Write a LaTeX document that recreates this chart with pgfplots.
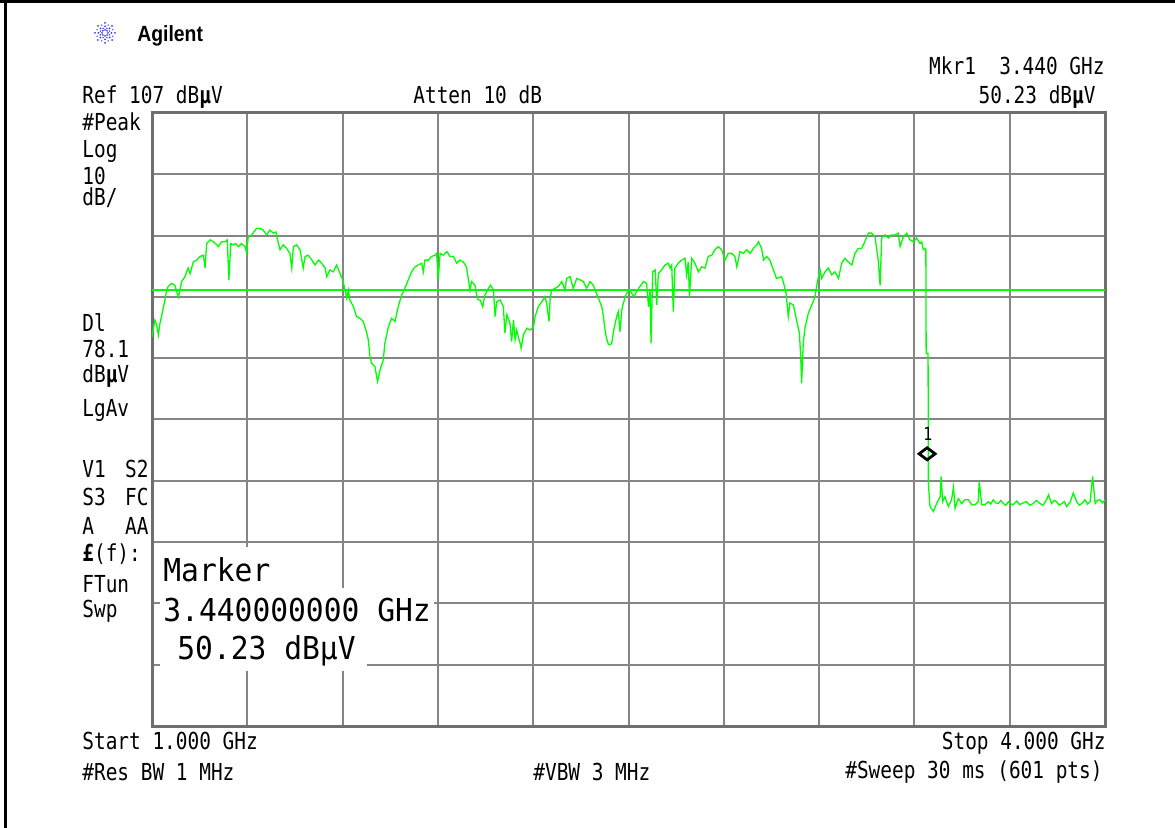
\documentclass[border=0pt]{standalone}
\usepackage{pgfplots}
\pgfplotsset{compat=1.18}
\usepackage{fontspec}
\newfontfamily\scr[FakeStretch=0.83]{DejaVu Sans Mono}
\newfontfamily\bigscr[FakeStretch=0.94]{DejaVu Sans Mono}
\newfontfamily\agil[FakeStretch=0.88]{Liberation Sans}
\definecolor{frameg}{HTML}{6E6E6E}
\definecolor{gridg}{HTML}{858585}
\definecolor{trace}{HTML}{00FF00}
\definecolor{agblue}{HTML}{3A3AF0}
\newcommand{\sm}{\scr\fontsize{11.7bp}{14bp}\selectfont}
\newcommand{\bg}{\bigscr\fontsize{15.75bp}{18bp}\selectfont}
\newcommand{\bmu}{{\bfseries µ}}
\begin{document}
\begin{tikzpicture}
\path[use as bounding box, fill=white] (0,0) rectangle (587.5bp,414bp);
\begin{axis}[at={(76bp,51bp)}, anchor=south west, scale only axis,
  width=476.5bp, height=306.5bp,
  xmin=1, xmax=4, ymin=7, ymax=107,
  xtick={1.3,1.6,1.9,2.2,2.5,2.8,3.1,3.4,3.7},
  ytick={17,27,37,47,57,67,77,87,97},
  xticklabels={}, yticklabels={}, major tick length=0pt,
  grid=major, grid style={gridg, line width=1bp},
  axis line style={frameg, line width=1.5bp},
  clip=false]
\addplot[trace, line width=1bp] coordinates {(1,78.1) (4,78.1)};
\addplot[trace, line width=0.65bp] coordinates {
(1.000,70.5) (1.009,73.2) (1.015,72.4) (1.020,70.8) (1.025,72.7) (1.030,73.8) (1.036,75.4) (1.041,76.5) (1.046,78.1) (1.051,78.7) (1.062,79.2) (1.072,78.9) (1.083,77.0) (1.088,78.1) (1.093,79.5) (1.104,80.3) (1.109,81.1) (1.114,81.7) (1.120,80.8) (1.130,82.7) (1.141,83.0) (1.151,83.6) (1.162,83.8) (1.167,81.7) (1.172,85.7) (1.183,86.3) (1.193,86.0) (1.204,85.5) (1.209,85.2) (1.219,86.0) (1.230,86.0) (1.237,86.3) (1.242,79.8) (1.248,85.7) (1.256,85.5) (1.264,85.7) (1.272,85.2) (1.282,85.7) (1.293,85.2) (1.298,84.1) (1.303,86.8) (1.314,87.1) (1.329,88.2) (1.340,88.2) (1.350,87.9) (1.361,87.1) (1.371,87.9) (1.382,87.4) (1.390,87.6) (1.398,85.7) (1.403,84.7) (1.413,85.5) (1.424,84.9) (1.434,84.1) (1.440,81.7) (1.445,85.2) (1.455,85.5) (1.466,84.7) (1.476,81.7) (1.482,83.6) (1.492,83.8) (1.503,83.0) (1.513,82.2) (1.524,83.0) (1.534,82.5) (1.545,81.7) (1.550,80.3) (1.560,81.4) (1.571,81.1) (1.581,82.2) (1.592,80.8) (1.600,79.8) (1.608,78.1) (1.613,76.8) (1.618,78.1) (1.623,76.5) (1.634,75.4) (1.644,73.8) (1.655,73.5) (1.665,73.0) (1.676,71.1) (1.681,70.0) (1.686,67.3) (1.691,66.2) (1.702,65.6) (1.707,64.0) (1.710,63.2) (1.718,65.1) (1.728,66.7) (1.733,69.4) (1.744,72.1) (1.754,73.5) (1.765,73.0) (1.775,75.4) (1.786,77.3) (1.796,78.4) (1.807,79.8) (1.817,81.1) (1.828,81.9) (1.838,82.2) (1.849,82.5) (1.854,81.1) (1.859,83.0) (1.870,83.0) (1.880,83.6) (1.891,83.8) (1.896,84.1) (1.901,79.8) (1.907,84.1) (1.917,83.8) (1.928,84.4) (1.938,83.6) (1.949,83.6) (1.959,82.5) (1.969,83.0) (1.980,82.7) (1.990,81.9) (1.996,79.8) (2.001,78.1) (2.006,79.5) (2.017,78.9) (2.022,77.3) (2.027,76.5) (2.033,76.5) (2.041,75.4) (2.048,77.3) (2.059,78.4) (2.066,78.9) (2.075,78.1) (2.080,73.8) (2.085,76.2) (2.096,76.5) (2.106,75.4) (2.111,71.1) (2.117,74.1) (2.127,72.7) (2.132,69.7) (2.138,73.2) (2.143,70.0) (2.148,71.6) (2.153,70.5) (2.159,69.4) (2.162,68.6) (2.169,70.8) (2.180,71.9) (2.190,71.6) (2.201,72.1) (2.206,73.8) (2.216,75.4) (2.227,76.2) (2.237,77.0) (2.242,76.0) (2.250,73.0) (2.253,76.5) (2.258,78.1) (2.269,78.4) (2.279,78.7) (2.290,79.5) (2.300,78.1) (2.305,80.0) (2.316,80.3) (2.326,78.4) (2.337,80.0) (2.347,79.8) (2.358,79.5) (2.368,78.4) (2.379,79.5) (2.389,78.9) (2.395,78.1) (2.405,76.8) (2.416,75.4) (2.421,73.8) (2.426,71.6) (2.431,70.2) (2.437,69.2) (2.442,69.2) (2.447,69.4) (2.452,71.1) (2.458,72.7) (2.463,73.8) (2.468,74.6) (2.473,71.3) (2.479,74.9) (2.484,76.0) (2.489,76.8) (2.494,77.6) (2.503,78.1) (2.510,77.6) (2.517,77.0) (2.526,77.9) (2.536,78.7) (2.547,79.5) (2.557,79.2) (2.563,75.4) (2.568,78.1) (2.571,69.4) (2.576,81.1) (2.584,81.4) (2.589,75.7) (2.594,80.8) (2.604,81.4) (2.615,82.2) (2.625,82.5) (2.631,81.7) (2.636,82.2) (2.641,74.6) (2.646,81.7) (2.657,82.5) (2.667,83.0) (2.678,83.3) (2.683,80.6) (2.688,82.7) (2.692,77.0) (2.699,83.3) (2.709,82.5) (2.720,81.1) (2.730,81.9) (2.741,81.7) (2.751,83.6) (2.762,83.8) (2.772,84.7) (2.783,85.2) (2.793,84.7) (2.804,83.0) (2.814,84.1) (2.825,84.1) (2.835,83.6) (2.841,81.9) (2.851,84.4) (2.862,84.1) (2.872,84.7) (2.883,84.1) (2.893,84.9) (2.904,85.5) (2.909,86.0) (2.919,84.9) (2.925,83.0) (2.935,83.6) (2.945,83.0) (2.956,81.4) (2.966,80.0) (2.982,80.3) (2.987,79.5) (2.996,77.6) (3.003,73.8) (3.008,76.0) (3.019,75.7) (3.029,73.2) (3.038,71.1) (3.042,67.3) (3.045,62.9) (3.050,69.4) (3.056,72.1) (3.066,74.3) (3.077,75.7) (3.087,77.0) (3.092,78.7) (3.098,80.3) (3.103,81.4) (3.108,80.0) (3.119,81.1) (3.129,81.7) (3.140,80.6) (3.150,81.1) (3.161,80.0) (3.171,82.5) (3.181,83.3) (3.192,82.7) (3.203,82.2) (3.213,84.1) (3.223,84.9) (3.234,84.9) (3.244,86.0) (3.255,87.4) (3.265,87.4) (3.276,86.8) (3.286,83.0) (3.292,78.9) (3.297,86.6) (3.307,87.1) (3.318,86.6) (3.328,87.1) (3.339,87.1) (3.349,87.4) (3.355,85.2) (3.365,86.8) (3.376,87.4) (3.386,86.3) (3.397,86.0) (3.407,86.6) (3.418,85.7) (3.423,86.0) (3.428,84.7) (3.436,84.9) (3.437,67.8) (3.443,67.8) (3.444,46.6) (3.449,42.8) (3.460,42.0) (3.470,43.3) (3.481,44.4) (3.484,47.7) (3.489,43.6) (3.496,44.4) (3.507,42.8) (3.517,43.9) (3.523,46.0) (3.528,42.5) (3.538,44.1) (3.549,43.3) (3.559,43.9) (3.570,43.9) (3.580,43.1) (3.591,43.1) (3.601,43.6) (3.604,46.9) (3.612,43.1) (3.622,43.1) (3.633,43.6) (3.640,43.2) (3.648,43.9) (3.656,43.4) (3.664,43.3) (3.672,43.8) (3.680,43.3) (3.688,43.0) (3.696,43.6) (3.704,43.2) (3.711,43.1) (3.722,43.7) (3.732,43.1) (3.742,43.4) (3.753,43.6) (3.763,43.0) (3.774,43.3) (3.784,43.8) (3.795,43.3) (3.805,43.0) (3.816,43.9) (3.822,44.7) (3.832,43.3) (3.840,43.8) (3.848,43.6) (3.856,43.0) (3.864,43.3) (3.872,43.6) (3.879,42.8) (3.890,43.5) (3.900,45.0) (3.911,43.6) (3.919,43.0) (3.927,43.3) (3.937,43.9) (3.945,43.2) (3.953,43.6) (3.961,47.7) (3.969,43.3) (3.976,43.8) (3.984,43.9) (3.992,43.4) (4.000,43.9)
};
\addplot[only marks, mark=diamond, mark size=4bp, mark options={rotate=90, draw=black, fill=white, line width=1.4bp}] coordinates {(3.44,51.4)};
\end{axis}
\begin{scope}[x=0.5bp, y=-0.5bp, shift={(0,414bp)}]
% outer frame (top and left)
\draw[black, line width=1.6bp] (0,1.6) -- (1175,1.6);
\draw[black, line width=1.3bp] (5.3,0) -- (5.3,828);
% Agilent logo
\foreach \a in {0,45,...,315} {
  \foreach \r in {3,6.5,10} { \fill[agblue] (105,33) ++(\a:\r) circle (1.0); }
}
\foreach \a in {22.5,67.5,...,337.5} {
  \foreach \r in {5,8.5} { \fill[agblue] (105,33) ++(\a:\r) circle (0.8); }
}
\node[anchor=base west, inner sep=0] at (137,42) {\agil\fontsize{11bp}{13bp}\selectfont\bfseries Agilent};
% header
\node[anchor=base east, inner sep=0] at (1105,74.5) {\sm Mkr1\ \ 3.440 GHz};
\node[anchor=base east, inner sep=0] at (1096,103.5) {\sm 50.23 dB\bmu V};
\node[anchor=base west, inner sep=0] at (82,103.5) {\sm Ref 107 dB\bmu V};
\node[anchor=base west, inner sep=0] at (413,103.5) {\sm Atten 10 dB};
% left column
\node[anchor=base west, inner sep=0] at (82,130.5) {\sm \#Peak};
\node[anchor=base west, inner sep=0] at (82,158) {\sm Log};
\node[anchor=base west, inner sep=0] at (82,184.5) {\sm 10};
\node[anchor=base west, inner sep=0] at (82,206) {\sm dB/};
\node[anchor=base west, inner sep=0] at (82,331.5) {\sm Dl};
\node[anchor=base west, inner sep=0] at (82,357.5) {\sm 78.1};
\node[anchor=base west, inner sep=0] at (82,382.5) {\sm dB\bmu V};
\node[anchor=base west, inner sep=0] at (82,417) {\sm LgAv};
\node[anchor=base west, inner sep=0] at (82,477.5) {\sm V1};
\node[anchor=base east, inner sep=0] at (149,477.5) {\sm S2};
\node[anchor=base west, inner sep=0] at (82,505.5) {\sm S3};
\node[anchor=base east, inner sep=0] at (149,505.5) {\sm FC};
\node[anchor=base west, inner sep=0] at (82,534.5) {\sm A};
\node[anchor=base east, inner sep=0] at (149,534.5) {\sm AA};
\node[anchor=base west, inner sep=0] at (82,562) {\sm {\bfseries £}(f):};
\node[anchor=base west, inner sep=0] at (82,592.5) {\sm FTun};
\node[anchor=base west, inner sep=0] at (82,618) {\sm Swp};
% footer
\node[anchor=base west, inner sep=0] at (82,749.5) {\sm Start 1.000 GHz};
\node[anchor=base east, inner sep=0] at (1106,749.5) {\sm Stop 4.000 GHz};
\node[anchor=base west, inner sep=0] at (82,780.5) {\sm \#Res BW 1 MHz};
\node[anchor=base west, inner sep=0] at (533,780.5) {\sm \#VBW 3 MHz};
\node[anchor=base east, inner sep=0] at (1103,779) {\sm \#Sweep 30 ms (601 pts)};
% marker readout box
\fill[white] (160,547) rectangle (272,588);
\fill[white] (160,588) rectangle (434,626);
\fill[white] (160,626) rectangle (367,671);
\node[anchor=base west, inner sep=0] at (163,581.5) {\bg Marker};
\node[anchor=base west, inner sep=0] at (163,621.5) {\bg 3.440000000 GHz};
\node[anchor=base west, inner sep=0] at (177,659.5) {\bg 50.23 dBµV};
% marker number
\node[anchor=base, inner sep=0] at (928,440.5) {\scr\fontsize{9bp}{10bp}\selectfont 1};
\end{scope}
\end{tikzpicture}
\end{document}
